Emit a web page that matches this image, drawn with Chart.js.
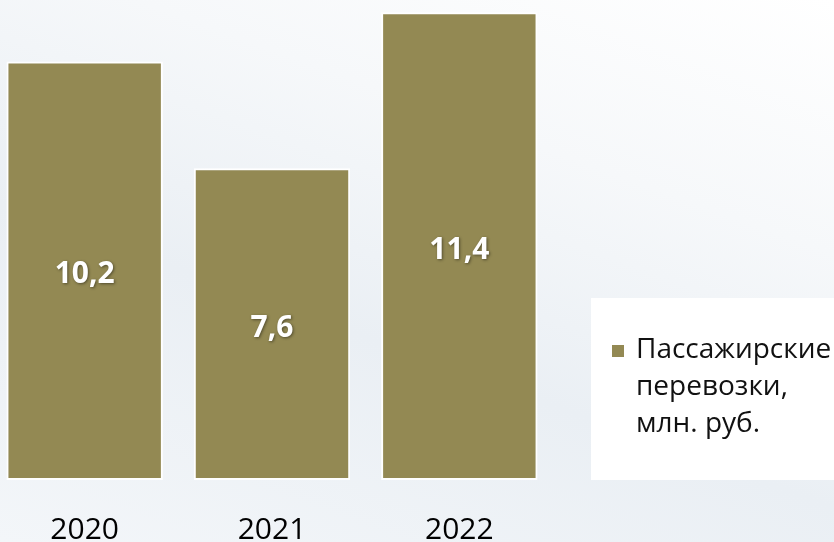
<!DOCTYPE html>
<html>
<head>
<meta charset="utf-8">
<script src="https://cdn.jsdelivr.net/npm/chart.js@4"></script>
<style>
  html, body { margin: 0; padding: 0; }
  body {
    width: 834px; height: 542px; overflow: hidden; position: relative;
    background: linear-gradient(200deg, #ffffff 0%, #f6f8fa 30%, #eaeff4 60%, #f3f6f9 100%);
  }
  #wrap { position: absolute; left: -9px; top: 0; width: 843px; height: 542px; }
</style>
</head>
<body>
<div id="wrap"><canvas id="chart"></canvas></div>
<script>
// chart data
var years = ['2020', '2021', '2022'];
var values = [10.2, 7.6, 11.4];
var seriesLabel = ['Пассажирские', 'перевозки,', 'млн. руб.'];
var barColor = '#938953';

// value labels in the middle of each bar
var valueLabels = {
    id: 'valueLabels',
    afterDatasetsDraw: function(chart) {
        var ctx = chart.ctx;
        var meta = chart.getDatasetMeta(0);
        ctx.save();
        ctx.font = 'bold 30px "Open Sans"';
        ctx.fillStyle = '#ffffff';
        ctx.textAlign = 'center';
        ctx.textBaseline = 'middle';
        ctx.shadowColor = 'rgba(0,0,0,0.45)';
        ctx.shadowBlur = 3;
        ctx.shadowOffsetX = 1;
        ctx.shadowOffsetY = 1;
        meta.data.forEach(function(bar, i) {
            var mid = (bar.y + bar.base) / 2;
            ctx.fillText(values[i].toFixed(1).replace('.', ','), bar.x, mid + 4);
        });
        ctx.restore();
    }
};

// legend box on the right
var sideLegend = {
    id: 'sideLegend',
    afterDraw: function(chart) {
        var ctx = chart.ctx;
        var area = chart.chartArea;
        ctx.save();
        ctx.fillStyle = '#ffffff';
        ctx.fillRect(600, 298, 243, area.bottom - 298);
        ctx.fillStyle = barColor;
        ctx.fillRect(621, 345, 12, 12);
        ctx.fillStyle = '#111111';
        ctx.font = '28px "Open Sans"';
        ctx.textBaseline = 'alphabetic';
        ctx.textAlign = 'left';
        var lines = chart.data.datasets[0].label;
        lines.forEach(function(line, i) {
            ctx.fillText(line, 645, 358 + i * 37);
        });
        ctx.restore();
    }
};

var ctx = document.getElementById('chart').getContext('2d');
var chart = new Chart(ctx, {
    type: 'bar',
    data: {
        labels: years,
        datasets: [{
            label: seriesLabel,
            data: values,
            backgroundColor: barColor,
            borderColor: '#ffffff',
            borderWidth: 2,
            borderSkipped: false,
            barPercentage: 0.835,
            categoryPercentage: 1
        }]
    },
    options: {
        responsive: true,
        maintainAspectRatio: false,
        animation: false,
        layout: { padding: { top: 0, right: 281, left: 0, bottom: 0 } },
        plugins: {
            legend: { display: false },
            tooltip: { enabled: false }
        },
        scales: {
            x: {
                grid: { display: false, drawTicks: false },
                border: { display: false },
                ticks: {
                    color: '#000000',
                    font: { family: 'Open Sans', size: 30 },
                    padding: 32
                },
                afterFit: function(scale) {
                    scale.height = 62;
                }
            },
            y: {
                display: false,
                min: 0,
                max: 11.7
            }
        }
    },
    plugins: [valueLabels, sideLegend]
});
</script>
</body>
</html>
